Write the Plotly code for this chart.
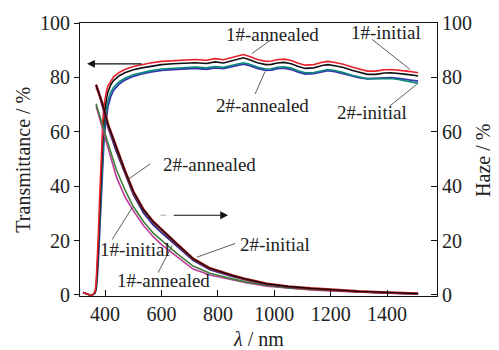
import plotly.graph_objects as go

# ---------------- data ----------------
wl_t = [322, 330, 340, 350, 358, 364, 368, 372, 376, 380, 384, 388, 392, 396, 400, 405, 410, 420, 430,
        450, 470, 500, 530, 560, 600, 640, 680, 720, 760, 790, 820, 850, 870, 890, 910, 940, 970, 990,
        1010, 1035, 1060, 1085, 1110, 1140, 1170, 1190, 1215, 1245, 1275, 1300, 1330, 1360, 1390, 1415,
        1440, 1470, 1500, 1510]

t_1_annealed = [0.9, 0.6, 0.2, -0.2, 0.3, 1.2, 4, 11, 22, 34, 46, 56, 64, 69.5, 72.5, 75, 76.8, 78.8, 80.2,
                81.8, 82.9, 84.0, 84.7, 85.3, 85.9, 86.2, 86.5, 86.6, 86.3, 86.9, 86.5, 87.2, 87.8, 88.4, 87.8, 86.6, 85.9, 86.0,
                86.5, 86.7, 86.2, 85.2, 84.5, 84.7, 85.6, 85.9, 85.5, 84.8, 83.8, 83.0, 82.3, 82.3, 82.8, 82.9,
                82.7, 82.3, 81.9, 81.7]
t_1_initial = [0.9, 0.6, 0.2, -0.2, 0.2, 0.8, 2.5, 8, 17, 28, 40, 50, 58.5, 65, 69, 72.3, 74.5, 77.3, 78.8,
               80.6, 81.7, 82.8, 83.5, 84.1, 84.7, 85.0, 85.3, 85.4, 85.1, 85.7, 85.3, 86.0, 86.6, 87.2, 86.6, 85.4, 84.7, 84.8,
               85.3, 85.5, 85.0, 84.0, 83.3, 83.5, 84.4, 84.7, 84.3, 83.6, 82.6, 81.8, 81.1, 81.1, 81.6, 81.7,
               81.5, 81.1, 80.7, 80.5]
t_2_initial = [0.9, 0.6, 0.2, -0.2, 0.2, 0.9, 2.5, 7.5, 16, 26, 37, 47, 55, 61, 65, 68.8, 71.5, 74.5, 76.3,
               78.4, 79.7, 81.0, 81.8, 82.4, 83.1, 83.4, 83.7, 83.8, 83.5, 84.0, 83.7, 84.3, 84.9, 85.4, 84.9, 83.8, 83.1, 83.2,
               83.7, 83.9, 83.4, 82.4, 81.7, 81.8, 82.6, 82.9, 82.5, 81.8, 80.8, 80.1, 79.5, 79.5, 79.7, 79.6,
               79.2, 78.7, 78.1, 77.8]
t_2_annealed = [0.9, 0.6, 0.2, -0.2, 0.2, 0.7, 2, 6, 13, 22, 32, 42, 50.5, 57, 61.5, 66, 69.3, 73, 75.2,
                77.6, 79.0, 80.4, 81.3, 81.9, 82.6, 82.9, 83.2, 83.3, 83.0, 83.5, 83.2, 83.8, 84.4, 84.9, 84.4, 83.3, 82.6, 82.7,
                83.2, 83.4, 82.9, 81.9, 81.2, 81.4, 82.2, 82.5, 82.1, 81.4, 80.5, 79.9, 79.5, 79.6, 79.9, 79.9,
                79.6, 79.2, 78.8, 78.6]

wl_h = [368, 375, 383, 393, 411, 440, 471, 500, 536, 570, 600, 654, 712, 772, 850, 900, 974, 1050, 1130,
        1200, 1300, 1400, 1510]
h_2_annealed = [77.3, 75, 72.5, 69.5, 62.5, 54, 45.5, 38, 31.4, 27, 24, 18.8, 13.3, 9.8, 7.2, 5.8, 4.1, 3.1, 2.4,
                1.9, 1.3, 0.9, 0.5]
h_2_initial = [76.0, 75.3, 72.3, 68.5, 61.5, 52.8, 44.3, 37, 30.2, 25.8, 22.9, 17.9, 12.7, 9.3, 6.8, 5.5, 3.9, 2.9, 2.3,
               1.8, 1.2, 0.8, 0.45]
h_1_initial = [70.3, 67.8, 65, 61.5, 55.5, 46, 38.5, 32.5, 27, 22.8, 20, 15.3, 10.6, 8.0, 5.9, 4.8, 3.5, 2.6, 2.0,
               1.6, 1.05, 0.7, 0.35]
h_1_annealed = [69.5, 67, 64, 60.1, 53.5, 43.4, 36, 31, 25.5, 21.5, 18.5, 14.2, 9.5, 7.3, 5.5, 4.5, 3.2, 2.4, 1.8,
                1.5, 1.0, 0.6, 0.3]

x_ticks = [400, 600, 800, 1000, 1200, 1400]
y_ticks = [0, 20, 40, 60, 80, 100]

# ---------------- figure ----------------
FONT = "Liberation Serif, Times New Roman, serif"
fig = go.Figure()

def line(x, y, color, width, axis="y"):
    fig.add_trace(go.Scatter(x=x, y=y, mode="lines", yaxis=axis,
                             line=dict(color=color, width=width), hoverinfo="skip",
                             showlegend=False))

# haze (right axis)
line(wl_h, h_1_annealed, "#c23a9e", 1.6, "y2")
line(wl_h, h_1_initial, "#3f7f3a", 1.6, "y2")
line(wl_h, h_2_initial, "#23238c", 1.8, "y2")
line(wl_h, h_2_annealed, "#b3232a", 2.6, "y2")
line(wl_h, h_2_annealed, "#1a0505", 1.3, "y2")

# transmittance (left axis)
line(wl_t, t_2_annealed, "#3535b0", 1.8)
line(wl_t, t_2_initial, "#0a8a7a", 1.6)
line(wl_t, t_1_initial, "#111111", 1.6)
line(wl_t, t_1_annealed, "#e8212b", 1.6)

tfont = dict(family=FONT, size=20, color="#222")
afont = dict(family=FONT, size=19, color="#222")

annos = [
    # transmittance labels
    ("1#-annealed", 992, 95.7), ("1#-initial", 1396, 96.4),
    ("2#-annealed", 957, 69.6), ("2#-initial", 1347, 67.1),
    # haze labels
    ("2#-annealed", 769, 47.9), ("1#-initial", 506, 16.8),
    ("1#-annealed", 606, 5.4), ("2#-initial", 1003, 18.6),
]
for txt, xx, yy in annos:
    fig.add_annotation(x=xx, y=yy, text=txt, showarrow=False, font=afont, xref="x", yref="y",
                       xanchor="center", yanchor="middle")

leaders = [
    (991, 94.0, 920, 88.7), (1346, 94.0, 1482, 82.9),
    (967, 82.1, 932, 73.9), (1411, 69.6, 1505, 77.4),
    (560, 48.2, 482, 42.5), (425, 20.4, 496, 32.1),
    (588, 8.2, 638, 18.2), (861, 18.9, 726, 13.9),
]
for x0, y0, x1, y1 in leaders:
    fig.add_shape(type="line", x0=x0, y0=y0, x1=x1, y1=y1, xref="x", yref="y",
                  line=dict(color="#333", width=0.8))

# direction arrows
fig.add_annotation(x=336, y=85, ax=535, ay=85, axref="x", ayref="y", xref="x", yref="y",
                   text="", showarrow=True, arrowhead=2, arrowsize=1.3, arrowwidth=1.2, arrowcolor="#111")
fig.add_annotation(x=836, y=29.3, ax=638, ay=29.3, axref="x", ayref="y", xref="x", yref="y",
                   text="", showarrow=True, arrowhead=2, arrowsize=1.3, arrowwidth=1.2, arrowcolor="#111")
fig.add_shape(type="line", x0=596, y0=29.3, x1=617, y1=29.3, xref="x", yref="y",
              line=dict(color="#bbbbbb", width=1.2))

# axis titles
fig.add_annotation(x=-0.162, y=0.5, xref="paper", yref="paper", text="Transmittance / %",
                   textangle=-90, showarrow=False, font=tfont, xanchor="center", yanchor="middle")
fig.add_annotation(x=1.129, y=0.495, xref="paper", yref="paper", text="Haze / %",
                   textangle=-90, showarrow=False, font=tfont, xanchor="center", yanchor="middle")
fig.add_annotation(x=0.499, y=-0.157, xref="paper", yref="paper", text="<i>λ</i> / nm",
                   showarrow=False, font=tfont, xanchor="center", yanchor="middle")

axis_common = dict(showgrid=False, zeroline=False, showline=True, linecolor="#111", linewidth=1.2,
                   tickfont=tfont, tickcolor="#111")

fig.update_layout(
    width=499, height=350,
    margin=dict(l=80, r=62, t=15, b=54),
    paper_bgcolor="white", plot_bgcolor="white",
    font=dict(family=FONT, color="#222"),
    xaxis=dict(range=[311, 1577], tickvals=x_ticks, ticks="inside", ticklen=6, mirror=True,
               **axis_common),
    yaxis=dict(range=[-0.4, 100], tickvals=y_ticks, ticks="outside", ticklen=5, **axis_common),
    yaxis2=dict(range=[-0.4, 100], tickvals=y_ticks, ticks="inside", ticklen=6, overlaying="y",
                side="right", **axis_common),
)

fig.write_html("out.html")
